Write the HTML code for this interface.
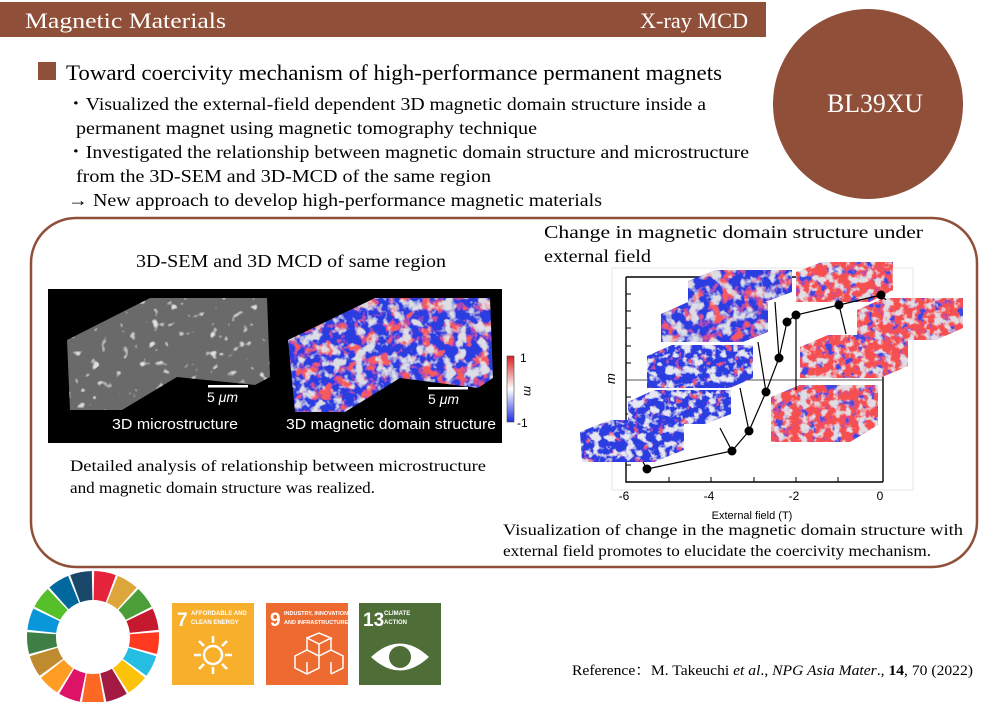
<!DOCTYPE html>
<html><head><meta charset="utf-8"><style>
html,body{margin:0;padding:0;background:#fff;}
svg{display:block;}
.s{font-family:"Liberation Serif","Noto Serif CJK SC",serif;}
.a{font-family:"Liberation Sans","DejaVu Sans",sans-serif;}
</style></head><body>
<svg id="sv" width="983" height="702" viewBox="0 0 983 702" xmlns="http://www.w3.org/2000/svg">
<defs>
<filter id="blue" filterUnits="userSpaceOnUse" x="0" y="0" width="983" height="702">
<feTurbulence type="fractalNoise" baseFrequency="0.12" numOctaves="3" seed="3" result="n"/>
<feColorMatrix in="n" type="matrix" values="0 0 0 0 0.9  0 0 0 0 0.1  0 0 0 0 0.1  6 0 0 0 -3.7" result="r"/>
<feFlood flood-color="#2a3ee0" result="b"/>
<feComposite in="r" in2="b" operator="over" result="m"/>
<feColorMatrix in="n" type="matrix" values="0 0 0 0 0.8  0 0 0 0 0.8  0 0 0 0 0.88  0 6 0 0 -3.0" result="w"/>
<feComposite in="w" in2="m" operator="over" result="mm"/>
<feComposite in="mm" in2="SourceGraphic" operator="in"/>
</filter>
<filter id="red" filterUnits="userSpaceOnUse" x="0" y="0" width="983" height="702">
<feTurbulence type="fractalNoise" baseFrequency="0.12" numOctaves="3" seed="5" result="n"/>
<feColorMatrix in="n" type="matrix" values="0 0 0 0 0.92  0 0 0 0 0.08  0 0 0 0 0.08  7 0 0 0 -2.2" result="r"/>
<feFlood flood-color="#3a4ae0" result="b"/>
<feComposite in="r" in2="b" operator="over" result="m"/>
<feColorMatrix in="n" type="matrix" values="0 0 0 0 0.75  0 0 0 0 0.72  0 0 0 0 0.78  0 6 0 0 -3.0" result="w"/>
<feComposite in="w" in2="m" operator="over" result="mm"/>
<feComposite in="mm" in2="SourceGraphic" operator="in"/>
</filter>
<filter id="mix" filterUnits="userSpaceOnUse" x="0" y="0" width="983" height="702">
<feTurbulence type="fractalNoise" baseFrequency="0.09" numOctaves="3" seed="8" result="n"/>
<feColorMatrix in="n" type="matrix" values="0 0 0 0 0.92  0 0 0 0 0.1  0 0 0 0 0.1  6 0 0 0 -3.0" result="r"/>
<feFlood flood-color="#2a3ee0" result="b"/>
<feComposite in="r" in2="b" operator="over" result="m"/>
<feColorMatrix in="n" type="matrix" values="0 0 0 0 0.72  0 0 0 0 0.72  0 0 0 0 0.78  0 6 0 0 -3.0" result="w"/>
<feComposite in="w" in2="m" operator="over" result="mm"/>
<feComposite in="mm" in2="SourceGraphic" operator="in"/>
</filter>
<filter id="gray" filterUnits="userSpaceOnUse" x="0" y="0" width="983" height="702">
<feTurbulence type="fractalNoise" baseFrequency="0.1" numOctaves="2" seed="2" result="n"/>
<feColorMatrix in="n" type="matrix" values="0 0 0 0 0.75  0 0 0 0 0.75  0 0 0 0 0.75  7 0 0 0 -4.6" result="w"/>
<feFlood flood-color="#6a6a6a" result="b"/>
<feComposite in="w" in2="b" operator="over" result="mm"/>
<feComposite in="mm" in2="SourceGraphic" operator="in"/>
</filter>
</defs>

<!-- header -->
<rect x="0" y="2" width="766" height="35" fill="#904f38"/>
<text class="s" x="25" y="28" font-size="22" fill="#fff" textLength="201" lengthAdjust="spacingAndGlyphs">Magnetic Materials</text>
<text class="s" x="640" y="28" font-size="22" fill="#fff" textLength="108" lengthAdjust="spacingAndGlyphs">X-ray MCD</text>
<circle cx="868" cy="104" r="95" fill="#904f38"/>
<text class="s" x="827" y="112" font-size="26" fill="#fff" textLength="96" lengthAdjust="spacingAndGlyphs">BL39XU</text>

<rect x="38" y="62" width="18" height="18" fill="#904f38"/>
<text class="s" x="66" y="80" font-size="22" fill="#000" textLength="656" lengthAdjust="spacingAndGlyphs">Toward coercivity mechanism of high-performance permanent magnets</text>
<g class="s" font-size="18" fill="#000">
<text x="66" y="110" textLength="640" lengthAdjust="spacingAndGlyphs">・Visualized the external-field dependent 3D magnetic domain structure inside a</text>
<text x="76" y="134" textLength="461" lengthAdjust="spacingAndGlyphs">permanent magnet using magnetic tomography technique</text>
<text x="66" y="158" textLength="683" lengthAdjust="spacingAndGlyphs">・Investigated the relationship between magnetic domain structure and microstructure</text>
<text x="76" y="182" textLength="415" lengthAdjust="spacingAndGlyphs">from the 3D-SEM and 3D-MCD of the same region</text>
<text x="68" y="206" textLength="534" lengthAdjust="spacingAndGlyphs">→ New approach to develop high-performance magnetic materials</text>
</g>

<!-- rounded box -->
<rect x="31" y="218" width="946" height="349" rx="45" ry="45" fill="none" stroke="#904f38" stroke-width="2.5"/>

<text class="s" x="136" y="267" font-size="18" textLength="310" lengthAdjust="spacingAndGlyphs">3D-SEM and 3D MCD of same region</text>

<!-- black panel -->
<rect x="48" y="289" width="454" height="154" fill="#000"/>
<polygon points="67,340 150,298 267,298 270,377 255,385 177,377 122,410 70,410" fill="#777" filter="url(#gray)"/>
<polygon points="288,340 375,298 490,298 493,378 478,388 400,378 345,412 295,412" fill="#777" filter="url(#mix)"/>
<rect x="208" y="385" width="40" height="2.5" fill="#fff"/>
<text class="a" x="207" y="402" font-size="14" fill="#fff">5 <tspan font-style="italic">μm</tspan></text>
<rect x="428" y="387" width="40" height="2.5" fill="#fff"/>
<text class="a" x="428" y="404" font-size="14" fill="#fff">5 <tspan font-style="italic">μm</tspan></text>
<text class="a" x="112" y="429" font-size="14.5" fill="#fff" textLength="126" lengthAdjust="spacingAndGlyphs">3D microstructure</text>
<text class="a" x="286" y="429" font-size="14.5" fill="#fff" textLength="210" lengthAdjust="spacingAndGlyphs">3D magnetic domain structure</text>
<defs><linearGradient id="cb" x1="0" y1="0" x2="0" y2="1"><stop offset="0" stop-color="#d82020"/><stop offset="0.5" stop-color="#fff"/><stop offset="1" stop-color="#2030e0"/></linearGradient></defs>
<rect x="507" y="356" width="7" height="66" fill="url(#cb)" stroke="#444" stroke-width="0.6"/>
<text class="a" x="520" y="362" font-size="12">1</text>
<text class="a" x="517" y="427" font-size="12">-1</text>
<text class="a" font-size="12" font-style="italic" transform="translate(524,386) rotate(90)">m</text>

<text class="s" x="70" y="471" font-size="15.5" textLength="416" lengthAdjust="spacingAndGlyphs">Detailed analysis of relationship between microstructure</text>
<text class="s" x="70" y="493" font-size="15.5" textLength="305" lengthAdjust="spacingAndGlyphs">and magnetic domain structure was realized.</text>

<!-- right chart -->
<text class="s" x="544" y="238" font-size="18" textLength="379" lengthAdjust="spacingAndGlyphs">Change in magnetic domain structure under</text>
<text class="s" x="544" y="262" font-size="18" textLength="107" lengthAdjust="spacingAndGlyphs">external field</text>
<rect x="612" y="268" width="301" height="222" fill="none" stroke="#e4e4e4" stroke-width="1"/>
<g stroke="#000" stroke-width="1.4" fill="none">
<path d="M626,277 H881 M626,277 V482 H883 M883,300 V482"/>
</g>
<line x1="626" y1="380" x2="883" y2="380" stroke="#555" stroke-width="1"/>
<g stroke="#000" stroke-width="1">
<path d="M626,294 h5 M626,311 h5 M626,328 h5 M626,346 h5 M626,363 h5 M626,397 h5 M626,414 h5 M626,431 h5 M626,448 h5 M626,465 h5 M669,482 v-5 M711,482 v-5 M754,482 v-5 M796,482 v-5 M838,482 v-5"/>
</g>
<g class="a" font-size="12" fill="#000" text-anchor="middle">
<text x="624" y="500">-6</text><text x="709" y="500">-4</text><text x="794" y="500">-2</text><text x="880" y="500">0</text>
<text x="752" y="519" font-size="11">External field (T)</text>
</g>
<text class="a" font-size="13" font-style="italic" transform="translate(615,384) rotate(-90)">m</text>

<!-- blocks -->
<g stroke="none">
<polygon points="580,432 610,420 684,420 684,450 654,462 582,462" fill="#888" filter="url(#blue)"/>
<polygon points="628,402 654,390 731,390 731,414 705,424 628,424" fill="#888" filter="url(#blue)"/>
<polygon points="647,356 672,345 753,345 753,378 730,388 647,388" fill="#888" filter="url(#blue)"/>
<polygon points="661,314 688,302 768,302 768,332 743,342 661,342" fill="#888" filter="url(#mix)"/>
<polygon points="688,281 715,270 792,270 792,292 765,302 688,302" fill="#888" filter="url(#mix)"/>
<polygon points="796,272 822,262 893,262 893,290 870,302 796,302" fill="#888" filter="url(#red)"/>
<polygon points="857,310 884,298 963,298 963,328 936,340 857,340" fill="#888" filter="url(#red)"/>
<polygon points="800,347 828,335 908,335 908,366 880,378 800,378" fill="#888" filter="url(#red)"/>
<polygon points="771,397 800,385 878,385 878,425 850,442 771,442" fill="#888" filter="url(#red)"/>
</g>
<g stroke="#000" stroke-width="1.2" fill="none">
<polyline points="647,469 732,451 749,431 766,392 779,358 787,322 796,315 839,305 881,295"/>
<path d="M796,315 V390 M720,428 L732,451 M740,388 L749,431 M758,342 L766,392 M775,302 L779,358 M839,305 L846,334 M881,295 L886,300 M643,462 L647,469"/>
</g>
<g fill="#000">
<circle cx="647" cy="469" r="4.5"/><circle cx="732" cy="451" r="4.5"/><circle cx="749" cy="431" r="4.5"/><circle cx="766" cy="392" r="4.5"/><circle cx="779" cy="358" r="4.5"/><circle cx="787" cy="322" r="4.5"/><circle cx="796" cy="315" r="4.5"/><circle cx="839" cy="305" r="4.5"/><circle cx="881" cy="295" r="4.5"/>
</g>
<text class="s" x="503" y="535" font-size="15.5" textLength="460" lengthAdjust="spacingAndGlyphs">Visualization of change in the magnetic domain structure with</text>
<text class="s" x="503" y="556" font-size="15.5" textLength="428" lengthAdjust="spacingAndGlyphs">external field promotes to elucidate the coercivity mechanism.</text>

<!-- SDG wheel -->
<g id="wheel"></g>
<!-- SDG icons -->
<rect x="172" y="603" width="82" height="82" fill="#f8b02c"/>
<text class="a" x="177" y="626" font-size="19" font-weight="bold" fill="#fff">7</text>
<text class="a" x="191" y="615" font-size="6" font-weight="bold" fill="#fff">AFFORDABLE AND</text>
<text class="a" x="191" y="624" font-size="6" font-weight="bold" fill="#fff">CLEAN ENERGY</text>
<g stroke="#fff" stroke-width="2.5" fill="none"><circle cx="213" cy="655" r="9"/><path d="M213,643v-7 M213,667v7 M201,655h-7 M225,655h7 M204,646l-5,-5 M222,646l5,-5 M204,664l-5,5 M222,664l5,5"/></g>
<rect x="266" y="603" width="82" height="82" fill="#ed6a30"/>
<text class="a" x="270" y="626" font-size="19" font-weight="bold" fill="#fff">9</text>
<text class="a" x="284" y="615" font-size="5.5" font-weight="bold" fill="#fff">INDUSTRY, INNOVATION</text>
<text class="a" x="284" y="624" font-size="5.5" font-weight="bold" fill="#fff">AND INFRASTRUCTURE</text>
<g stroke="#fff" stroke-width="1.5" fill="none"><path d="M307,638 l12,6 v12 l-12,-6z M307,638 l12,-5 l12,5 l-12,6 M331,638 v12 l-12,6 M295,656 l12,-6 l12,6 v12 l-12,6 l-12,-6z M307,662 v12 M319,656 l12,-6 l12,6 v12 l-12,6 M331,662v12"/></g>
<rect x="359" y="603" width="82" height="82" fill="#4e6d37"/>
<text class="a" x="363" y="626" font-size="19" font-weight="bold" fill="#fff">13</text>
<text class="a" x="384" y="615" font-size="6" font-weight="bold" fill="#fff">CLIMATE</text>
<text class="a" x="384" y="624" font-size="6" font-weight="bold" fill="#fff">ACTION</text>
<path d="M371,657 Q400,630 429,657 Q400,684 371,657z" fill="#fff"/>
<circle cx="400" cy="657" r="11" fill="#4e6d37"/>

<text class="s" x="572" y="675" font-size="15" textLength="401" lengthAdjust="spacingAndGlyphs">Reference：M. Takeuchi <tspan font-style="italic">et al</tspan>., <tspan font-style="italic">NPG Asia Mater</tspan>., <tspan font-weight="bold">14</tspan>, 70 (2022)</text>
</svg>
<script>
(function(){
var c=["#e5243b","#dda63a","#4c9f38","#c5192d","#ff3a21","#26bde2","#fcc30b","#a21942","#fd6925","#dd1367","#fd9d24","#bf8b2e","#3f7e44","#0a97d9","#56c02b","#00689d","#19486a"];
var cx=93,cy=637,R=66,r=37,g=document.getElementById("wheel"),s="";
function p(a,rad){return (cx+rad*Math.sin(a)).toFixed(1)+","+(cy-rad*Math.cos(a)).toFixed(1);}
for(var i=0;i<17;i++){var a0=(i*360/17+1)*Math.PI/180,a1=((i+1)*360/17-1)*Math.PI/180;
s+='<path fill="'+c[i]+'" d="M'+p(a0,r)+' L'+p(a0,R)+' A'+R+','+R+' 0 0 1 '+p(a1,R)+' L'+p(a1,r)+' A'+r+','+r+' 0 0 0 '+p(a0,r)+'Z"/>';}
g.innerHTML=s;})();
</script>
</body></html>
